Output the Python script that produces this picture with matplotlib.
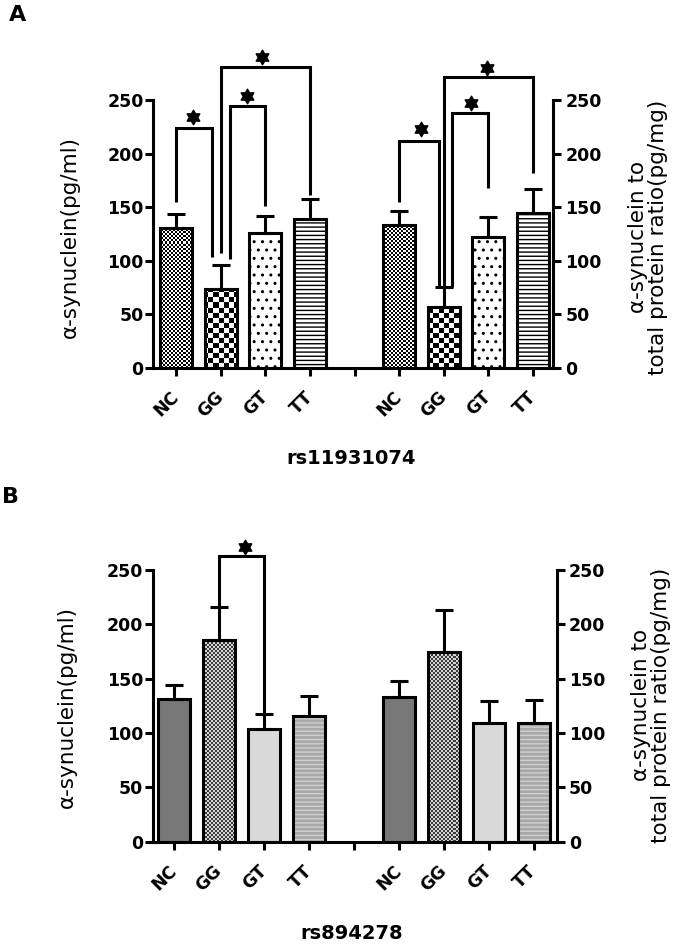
import numpy as np
import matplotlib
matplotlib.use('Agg')
import matplotlib.pyplot as plt
from matplotlib.path import Path
from matplotlib.colors import ListedColormap

FIG_W, FIG_H = 675, 947
DPI = 100

# ---------------- data ----------------
categories = ['NC', 'GG', 'GT', 'TT']
tick_labels = ['NC', 'GG', 'GT', 'TT', '', 'NC', 'GG', 'GT', 'TT']
left_pos = [0, 1, 2, 3]
right_pos = [5, 6, 7, 8]
yticks = [0, 50, 100, 150, 200, 250]

# Panel A : rs11931074
a_conc_mean = [131, 74, 126, 139]
a_conc_err = [13, 22, 15.5, 18.5]
a_ratio_mean = [133, 56.5, 122.6, 144.4]
a_ratio_err = [13.6, 19.5, 18.7, 23]
# Panel B : rs894278
b_conc_mean = [131.3, 185.6, 103.7, 116]
b_conc_err = [12.6, 30.7, 13.5, 18]
b_ratio_mean = [133.4, 174.8, 109.5, 109.5]
b_ratio_err = [14.5, 38.4, 20.3, 21]

# significance brackets: (x_left, y_left_start, x_right, y_right_start, y_top)
a_brackets = [(0, 155, 0.8, 104, 224), (1.2, 102, 2, 151, 244.5), (1.0, 107, 3, 161.5, 281),
              (5, 155, 5.89, 76, 212), (6.18, 76, 7, 168, 237.6), (6.01, 76, 8, 181.7, 271)]
a_stars = [(0.38, 234), (1.59, 254), (1.92, 290), (5.5, 223), (6.6, 247.5), (6.96, 280)]
b_brackets = [(1.0, 216, 2.0, 117, 263)]
b_stars = [(1.57, 271)]

# ---------------- styling ----------------
LW = 2.2
TICK_FS = 12.5
fills_a = [('checker', 2, 'black', 'white'),
           ('checker', 5, 'black', 'white'),
           ('hatch', 'white', '..', 'black'),
           ('hatch', 'white', '----', 'black')]
fills_b = [('solid', '#787878'),
           ('checker', 2, '#3a3a3a', '#d4d4d4'),
           ('solid', '#d9d9d9'),
           ('hatch', '#a8a8a8', '----', '#d0d0d0')]

ang = np.deg2rad(90 + 30 * np.arange(12))
rad = np.where(np.arange(12) % 2 == 0, 1.0, 1 / np.sqrt(3))
sv = np.column_stack([rad * np.cos(ang), rad * np.sin(ang)])
sv = np.vstack([sv, sv[:1]])
STAR = Path(sv, [Path.MOVETO] + [Path.LINETO] * 11 + [Path.CLOSEPOLY])

fig = plt.figure(figsize=(FIG_W / DPI, FIG_H / DPI), dpi=DPI)


def px_rect(left, right, top, bottom):
    return [left / FIG_W, 1 - bottom / FIG_H, (right - left) / FIG_W, (bottom - top) / FIG_H]


def draw_bars(ax, pos, means, errs, fills, xlim, wpx, hpx):
    for x, m, spec in zip(pos, means, fills):
        kind = spec[0]
        if kind == 'solid':
            base = ax.bar(x, m, 0.72, color=spec[1], linewidth=0, zorder=2)[0]
        elif kind == 'hatch':
            base = ax.bar(x, m, 0.72, color=spec[1], edgecolor=spec[3], hatch=spec[2],
                          linewidth=0, zorder=2)[0]
        else:
            base = ax.bar(x, m, 0.72, color='white', linewidth=0, zorder=2)[0]
            cell, c1, c2 = spec[1], spec[2], spec[3]
            cols = int(np.ceil(wpx / cell)) + 1
            rows = int(np.ceil(hpx / cell)) + 1
            arr = np.add.outer(np.arange(rows), np.arange(cols)) % 2
            x1 = xlim[0] + cols * cell * (xlim[1] - xlim[0]) / wpx
            y1 = rows * cell * 250 / hpx
            im = ax.imshow(arr, cmap=ListedColormap([c1, c2]), vmin=0, vmax=1,
                           extent=[xlim[0], x1, 0, y1], origin='lower', aspect='auto',
                           interpolation='nearest', zorder=2.5)
            im.set_clip_path(base)
        ax.bar(x, m, 0.72, facecolor='none', edgecolor='black', linewidth=LW, zorder=3)
    ax.errorbar(pos, means, yerr=[np.zeros(len(means)), errs], fmt='none', ecolor='black',
                elinewidth=LW, capsize=6.5, capthick=LW, zorder=3.5)


def draw_panel(rect_px, xlim, c_mean, c_err, r_mean, r_err, fills, brackets, stars):
    rect = px_rect(*rect_px)
    ax = fig.add_axes(rect)
    wpx = rect_px[1] - rect_px[0]
    hpx = rect_px[3] - rect_px[2]
    ax.set_xlim(xlim)
    ax.set_ylim(0, 250)
    draw_bars(ax, left_pos, c_mean, c_err, fills, xlim, wpx, hpx)
    draw_bars(ax, right_pos, r_mean, r_err, fills, xlim, wpx, hpx)
    for (xl, yl, xr, yr, top) in brackets:
        ax.plot([xl, xl, xr, xr], [yl, top, top, yr], color='black', lw=LW, clip_on=False,
                solid_joinstyle='miter', solid_capstyle='butt', zorder=5)
    for (sx, sy) in stars:
        ax.plot([sx], [sy], marker=STAR, ms=10.5, color='black', linestyle='none',
                clip_on=False, zorder=5)
    ax.set_xlim(xlim)
    ax.set_ylim(0, 250)
    ax.spines['top'].set_visible(False)
    ax.spines['right'].set_visible(False)
    for s in ['left', 'bottom']:
        ax.spines[s].set_linewidth(LW)
    ax.set_yticks(yticks)
    ax.set_yticklabels([str(v) for v in yticks], fontsize=TICK_FS, fontweight='bold')
    ax.set_xticks(range(len(tick_labels)))
    ax.set_xticklabels(tick_labels, rotation=45, ha='right', va='center',
                       rotation_mode='anchor', fontsize=TICK_FS, fontweight='bold')
    ax.tick_params(axis='y', length=5.8, width=LW, pad=1)
    ax.tick_params(axis='x', length=6, width=LW, pad=13)

    tw = ax.twinx()
    tw.set_ylim(0, 250)
    for s in ['top', 'left', 'bottom']:
        tw.spines[s].set_visible(False)
    tw.spines['right'].set_linewidth(LW)
    tw.set_yticks(yticks)
    tw.set_yticklabels([str(v) for v in yticks], fontsize=TICK_FS, fontweight='bold')
    tw.tick_params(axis='y', length=5.8, width=LW, pad=3)
    return ax


draw_panel((153, 553, 100, 368), (-0.52, 8.45), a_conc_mean, a_conc_err,
           a_ratio_mean, a_ratio_err, fills_a, a_brackets, a_stars)
draw_panel((152.7, 556.7, 570, 841.7), (-0.48, 8.51), b_conc_mean, b_conc_err,
           b_ratio_mean, b_ratio_err, fills_b, b_brackets, b_stars)


def ftext(xpx, ypx, s, **kw):
    fig.text(xpx / FIG_W, 1 - ypx / FIG_H, s, ha='center', va='center', **kw)


ylab_l = 'α-synuclein(pg/ml)'
ylab_r = 'α-synuclein to\ntotal protein ratio(pg/mg)'
ftext(70, 237, ylab_l, rotation=90, fontsize=15.5)
ftext(648, 237, ylab_r, rotation=90, fontsize=15.5, linespacing=1.0)
ftext(67, 707, ylab_l, rotation=90, fontsize=15.5)
ftext(651, 705, ylab_r, rotation=90, fontsize=15.5, linespacing=1.0)
ftext(351, 458, 'rs11931074', fontsize=14, fontweight='bold')
ftext(352, 933, 'rs894278', fontsize=14, fontweight='bold')
ftext(18, 15, 'A', fontsize=16, fontweight='bold')
ftext(11, 497, 'B', fontsize=16, fontweight='bold')

fig.savefig('out.png', dpi=DPI)
